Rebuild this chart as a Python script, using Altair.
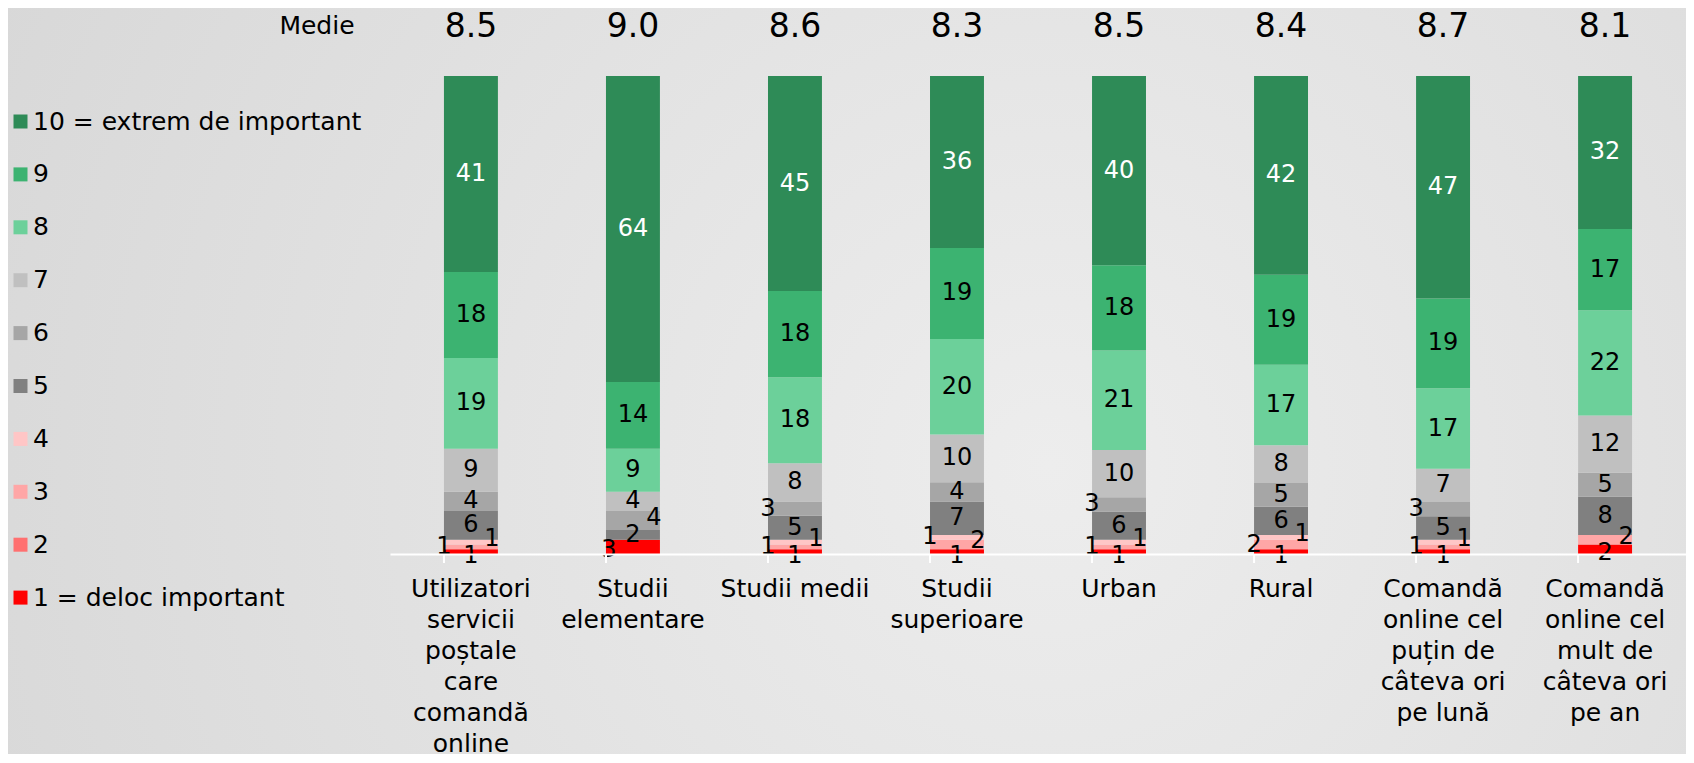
import altair as alt
import pandas as pd

# ---------------- data ----------------
categories = [
    "Utilizatori|servicii|poștale|care|comandă|online",
    "Studii|elementare",
    "Studii medii",
    "Studii|superioare",
    "Urban",
    "Rural",
    "Comandă|online cel|puțin de|câteva ori|pe lună",
    "Comandă|online cel|mult de|câteva ori|pe an",
]
means = [8.5, 9.0, 8.6, 8.3, 8.5, 8.4, 8.7, 8.1]

levels = [1, 2, 3, 4, 5, 6, 7, 8, 9, 10]
level_names = ["1 = deloc important", "2", "3", "4", "5", "6", "7", "8", "9",
               "10 = extrem de important"]

# values per level (1..10) for each category
lvl1 = [1, 3, 1, 1, 1, 1, 1, 2]
lvl2 = [0, 0, 0, 0, 0, 0, 0, 0]
lvl3 = [1, 0, 1, 2, 1, 2, 1, 2]
lvl4 = [1, 0, 1, 1, 1, 1, 1, 0]
lvl5 = [6, 2, 5, 7, 6, 6, 5, 8]
lvl6 = [4, 4, 3, 4, 3, 5, 3, 5]
lvl7 = [9, 4, 8, 10, 10, 8, 7, 12]
lvl8 = [19, 9, 18, 20, 21, 17, 17, 22]
lvl9 = [18, 14, 18, 19, 18, 19, 19, 17]
lvl10 = [41, 64, 45, 36, 40, 42, 47, 32]
series = [lvl1, lvl2, lvl3, lvl4, lvl5, lvl6, lvl7, lvl8, lvl9, lvl10]

colors = ["#FF0000", "#FF7070", "#FFA6A6", "#FFC6C6", "#808080", "#A6A6A6",
          "#C0C0C0", "#6CD09A", "#3CB371", "#2E8B57"]

# label placement style for crowded small segments (category index, level) -> slot
label_slot = {
    (0, 3): "left", (0, 4): "right",
    (1, 1): "leftlow", (1, 6): "right",
    (2, 3): "left", (2, 4): "right", (2, 6): "left",
    (3, 4): "left", (3, 3): "right",
    (4, 3): "left", (4, 4): "right", (4, 6): "left",
    (5, 3): "left", (5, 4): "right",
    (6, 3): "left", (6, 4): "right", (6, 6): "left",
    (7, 3): "right",
}

rows = []
for ci, cat in enumerate(categories):
    for li, lv in enumerate(levels):
        v = series[li][ci]
        slot = label_slot.get((ci, lv), "low" if lv == 1 else "center")
        rows.append({"cat": cat, "level": lv, "lname": level_names[li],
                     "value": v, "slot": slot})
df = pd.DataFrame(rows)
df_means = pd.DataFrame({"cat": categories, "mean": means})
df_medie = pd.DataFrame({"t": ["Medie"]})

FONT = "DejaVu Sans"
W, H = 1296, 478
PL, PT, PB = 382, 68, 200

xscale = alt.Scale(domain=categories, paddingInner=0.667, paddingOuter=0.333)
yscale = alt.Scale(domain=[0, 1])

# background gradient panel
bg = alt.Chart(df_medie).mark_rect(
    fill=alt.RadialGradient(
        gradient="radial", x1=0.62, y1=0.55, r1=0.0, x2=0.62, y2=0.55, r2=0.75,
        stops=[alt.GradientStop(offset=0, color="#EDEDED"),
               alt.GradientStop(offset=1, color="#D6D6D6")]),
    strokeWidth=0,
).encode(x=alt.value(-PL), x2=alt.value(W), y=alt.value(-PT), y2=alt.value(H + PB))

base = alt.Chart(df).transform_filter("datum.value > 0").transform_stack(
    stack="value", groupby=["cat"], sort=[{"field": "level", "order": "ascending"}],
    as_=["y0", "y1"], offset="normalize"
).transform_calculate(mid="(datum.y0 + datum.y1) / 2")

bars = base.mark_bar(stroke=None).encode(
    x=alt.X("cat:N", scale=xscale, sort=categories, title=None,
            axis=alt.Axis(labelExpr="split(datum.label, '|')", labelAngle=0,
                          labelFont=FONT, labelFontSize=25, labelColor="#000000",
                          labelLineHeight=31, labelPadding=22, labelLimit=400,
                          labelBaseline="top", zindex=1,
                          ticks=False, domainColor="#FFFFFF", domainWidth=2,
                          grid=False)),
    y=alt.Y("y0:Q", scale=yscale, axis=None),
    y2="y1:Q",
    color=alt.Color("lname:N",
                    scale=alt.Scale(domain=level_names[::-1], range=colors[::-1]),
                    legend=alt.Legend(title=None, orient="none", legendX=-382, legendY=33,
                                      symbolType="square", symbolSize=196,
                                      symbolStrokeWidth=0, labelFont=FONT,
                                      labelFontSize=25, labelColor="#000000",
                                      labelOffset=0, rowPadding=26.9, labelLimit=500)),
)

def seg_text(slot, dx, dy):
    return base.transform_filter(f"datum.slot == '{slot}'").mark_text(
        font=FONT, fontSize=24, dx=dx, dy=dy, baseline="middle", align="center"
    ).encode(
        x=alt.X("cat:N", scale=xscale, sort=categories),
        y=alt.Y("mid:Q", scale=yscale),
        text="value:Q",
        color=alt.condition("datum.level == 10", alt.value("#FFFFFF"), alt.value("#000000")),
    )

texts = [seg_text("center", 0, 0), seg_text("low", 0, 4), seg_text("left", -27, 0),
         seg_text("right", 21, -3), seg_text("leftlow", -24, 3)]

ticks = alt.Chart(df_means).mark_rule(color="#FFFFFF", strokeWidth=2).encode(
    x=alt.X("cat:N", scale=xscale, sort=categories, bandPosition=0),
    y=alt.value(H), y2=alt.value(H + 9),
)

mean_text = alt.Chart(df_means).mark_text(font=FONT, fontSize=33, color="#000000",
                                          baseline="middle").encode(
    x=alt.X("cat:N", scale=xscale, sort=categories),
    y=alt.value(-49),
    text=alt.Text("mean:Q", format=".1f"),
)

medie = alt.Chart(df_medie).mark_text(font=FONT, fontSize=25, color="#000000",
                                      baseline="middle", align="center").encode(
    x=alt.value(-73), y=alt.value(-50), text="t:N",
)

chart = alt.layer(bg, bars, *texts, ticks, mean_text, medie).properties(
    width=W, height=H,
    autosize=alt.AutoSizeParams(type="none"),
    padding={"left": PL, "top": PT, "right": 0, "bottom": PB},
    background="#E0E0E0",
).configure_view(stroke=None)

chart.save("out.html", embed_options={"renderer": "svg", "actions": False})
